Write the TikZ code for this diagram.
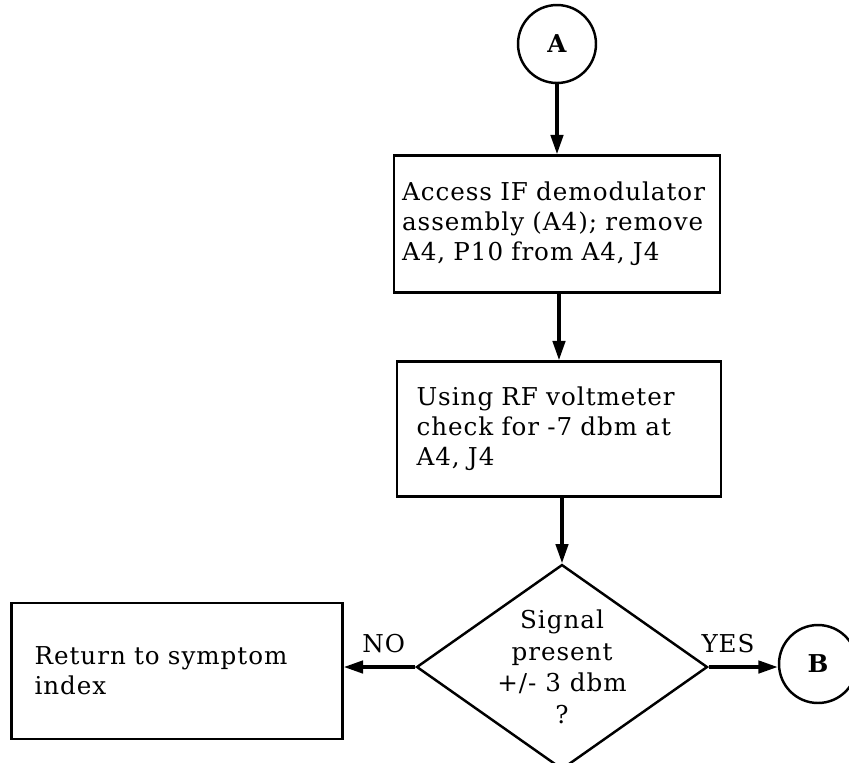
\documentclass[tikz,border=0pt]{standalone}
\usepackage{fontspec}
\setmainfont[LetterSpace=4]{DejaVu Serif}
\usetikzlibrary{shapes.geometric, arrows.meta, positioning}

\begin{document}
\begin{tikzpicture}[
    x=0.02cm, y=-0.02cm,
    actbox/.style={
        rectangle, draw=black, line width=1.4pt,
        font=\fontsize{14}{17}\selectfont, align=left
    },
    decide/.style={
        diamond, aspect=1.42, draw=black, line width=1.4pt,
        minimum width=5.68cm, minimum height=4cm, inner sep=0pt,
        font=\fontsize{14}{18}\selectfont, align=center
    },
    conn/.style={
        circle, draw=black, line width=1.4pt, minimum size=1.56cm,
        inner sep=0pt, font=\fontsize{14}{17}\selectfont\bfseries
    },
    lbl/.style={font=\fontsize{14}{16}\selectfont, inner sep=2pt},
    arr/.style={-{Triangle[length=11pt, width=7pt]}, line width=2pt}
]
\useasboundingbox (0,0) rectangle (849,762);

% connector A and the two process boxes
\node[conn] (conA) at (557,44) {A};

\node[actbox, minimum width=6.52cm, minimum height=2.74cm,
      text width=6.2cm, inner xsep=0.16cm] (access) at (557,224)
    {Access IF demodulator\\assembly (A4); remove\\A4, P10 from A4, J4};

\node[actbox, minimum width=6.48cm, minimum height=2.7cm,
      text width=5.7cm, inner xsep=0.39cm] (check) at (559,429)
    {Using RF voltmeter\\check for -7 dbm at\\A4, J4\\[-4pt]};

% decision
\node[decide] (signal) at (562,667)
    {Signal\\present\\+/- 3 dbm\\?};

% outcomes
\node[actbox, minimum width=6.6cm, minimum height=2.72cm,
      text width=5.7cm, inner xsep=0.46cm] (ret) at (177,671)
    {Return to symptom\\index};

\node[conn] (conB) at (818,664) {B};

% flow
\draw[arr] (conA) -- (access.north -| conA);
\draw[arr] (access.south -| check) -- (check.north);
\draw[arr] (check.south -| signal) -- (signal.north);
\draw[arr] (signal.west) -- (signal.west -| ret.east)
    node[lbl, pos=0.44, above=5pt] {NO};
\draw[arr] (signal.east) -- (signal.east -| conB.west)
    node[lbl, pos=0.28, above=5pt] {YES};

\end{tikzpicture}
\end{document}
